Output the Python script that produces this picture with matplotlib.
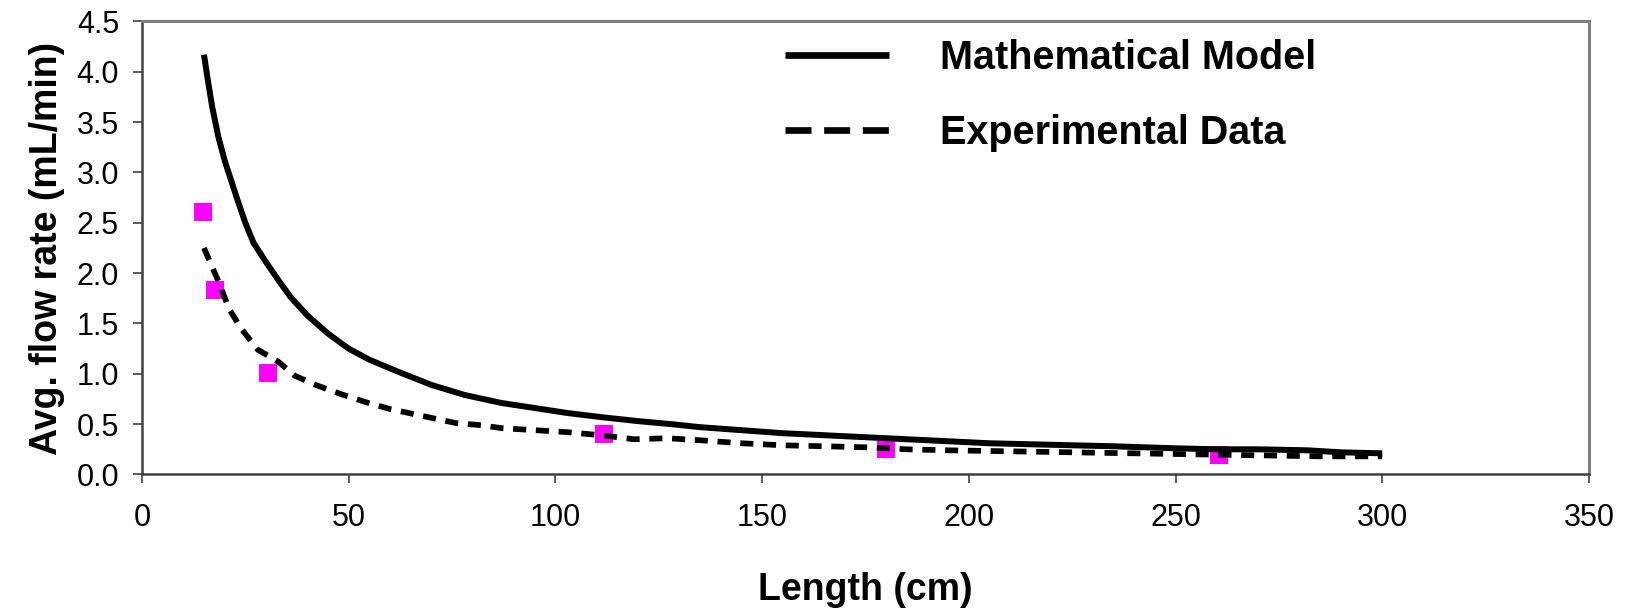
import numpy as np
import matplotlib
matplotlib.use("Agg")
import matplotlib.pyplot as plt
from matplotlib.lines import Line2D

plt.rcParams['font.family'] = ['Liberation Sans', 'DejaVu Sans']

# Mathematical model curve
model_len = [15, 16, 17, 18.5, 20, 21.5, 23, 25, 27, 30, 33, 36, 40, 45, 50, 55, 62, 70,
             78, 87, 95, 103, 111, 120, 128, 135, 145, 155, 165, 175, 185, 195, 205,
             215, 225, 235, 250, 260, 270, 282, 290, 300]
model_flow = [4.17, 3.90, 3.65, 3.35, 3.12, 2.93, 2.74, 2.50, 2.30, 2.11, 1.93, 1.76,
              1.58, 1.40, 1.25, 1.14, 1.02, 0.89, 0.79, 0.71, 0.66, 0.61, 0.57, 0.53,
              0.50, 0.47, 0.44, 0.41, 0.39, 0.37, 0.35, 0.33, 0.31, 0.30, 0.29, 0.28,
              0.26, 0.25, 0.25, 0.24, 0.22, 0.21]

# Fitted curve through the experimental data (dashed)
fit_len = [15, 19, 21, 24, 28, 33, 37, 42, 48, 54, 60, 68, 76, 82, 87, 95, 103, 111,
           119, 127, 135, 145, 155, 165, 175, 185, 195, 210, 225, 240, 255, 270, 285, 300]
fit_flow = [2.25, 1.87, 1.65, 1.45, 1.24, 1.12, 0.98, 0.89, 0.80, 0.72, 0.65, 0.58,
            0.51, 0.49, 0.46, 0.44, 0.42, 0.39, 0.35, 0.36, 0.34, 0.31, 0.29, 0.28,
            0.27, 0.25, 0.24, 0.23, 0.22, 0.21, 0.20, 0.19, 0.18, 0.18]

# Measured points
exp_len = [14.8, 17.7, 30.6, 111.8, 180, 260.5]
exp_flow = [2.61, 1.83, 1.01, 0.40, 0.25, 0.19]

fig = plt.figure(figsize=(16.28, 6.09), dpi=100)
ax = fig.add_axes([0.0872, 0.2209, 0.8888, 0.7438])

ax.plot(exp_len, exp_flow, linestyle='none', marker='s', markersize=12.5,
        color='#FF00FF', markeredgewidth=0, zorder=2)
ax.plot(model_len, model_flow, color='black', linewidth=4.3, zorder=3,
        solid_capstyle='butt')
ax.plot(fit_len, fit_flow, color='black', linewidth=4.1, dashes=(2.3, 1.7),
        dash_capstyle='butt', zorder=3)

ax.set_xlim(0, 350)
ax.set_ylim(0, 4.5)
ax.set_xticks(np.arange(0, 351, 50))
ax.set_yticks(np.arange(0, 4.51, 0.5))
ax.set_yticklabels([f'{v:.1f}' for v in np.arange(0, 4.51, 0.5)])

for s in ['top', 'right']:
    ax.spines[s].set_color('#808080')
    ax.spines[s].set_linewidth(2.2)
for s in ['left', 'bottom']:
    ax.spines[s].set_color('#404040')
    ax.spines[s].set_linewidth(1.8)

ax.tick_params(axis='both', direction='out', length=6.5, width=1.2, color='#404040',
               labelsize=22)
ax.tick_params(axis='x', pad=14)
ax.tick_params(axis='y', pad=10)

ax.set_xlabel('Length (cm)', fontsize=27, fontweight='bold', labelpad=28)
ax.set_ylabel('Avg. flow rate (mL/min)', fontsize=27, fontweight='bold', labelpad=8)

handles = [Line2D([], [], color='black', linewidth=4.8, solid_capstyle='butt'),
           Line2D([], [], color='black', linewidth=4.8, dashes=(3.9, 1.9),
                  dash_capstyle='butt')]
ax.legend(handles, ['Mathematical Model', 'Experimental Data'], loc='upper left',
          bbox_to_anchor=(0.432, 1.0), frameon=False,
          prop={'weight': 'bold', 'size': 28.5}, handlelength=2.63,
          handletextpad=1.3, labelspacing=0.92, borderaxespad=0.05)

fig.savefig('out.png', dpi=100, facecolor='white')
